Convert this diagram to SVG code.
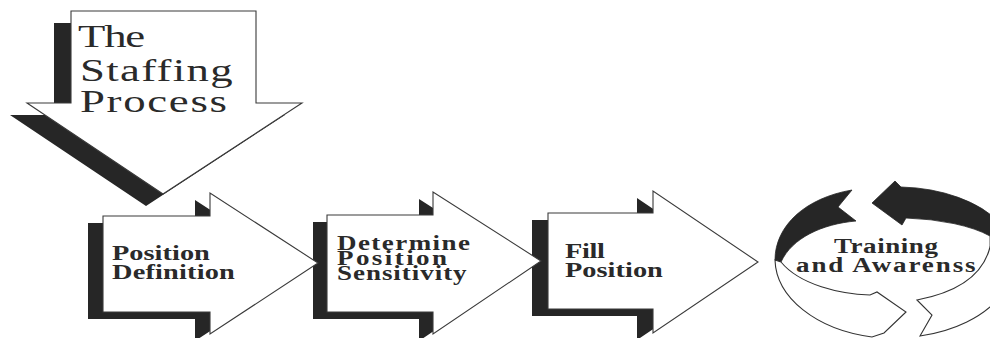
<svg xmlns="http://www.w3.org/2000/svg" width="990" height="338" viewBox="0 0 990 338">
<style>
.shadow{fill:#262626;stroke:none}
.arrow{fill:#ffffff;stroke:#3a3a3a;stroke-width:1.1;stroke-linejoin:miter}
.ringdark{fill:#262626;stroke:#262626;stroke-width:0.8}
.ringwhite{fill:#ffffff;stroke:#333333;stroke-width:1.1}
.title{font-family:"Liberation Serif","Times New Roman",serif;font-size:32px;fill:#2a2a2a}
.lbl{font-family:"Liberation Serif","Times New Roman",serif;font-weight:bold;font-size:21px;fill:#2a2a2a}
.lbl2{font-family:"Liberation Serif","Times New Roman",serif;font-weight:bold;font-size:20px;fill:#2a2a2a}
.lbl3{font-family:"Liberation Serif","Times New Roman",serif;font-weight:bold;font-size:20px;fill:#2a2a2a}
</style>
<defs>
<path id="bigArrow" d="M71,11 H256 V103 H302 L163,194 L27,103 H71 Z"/>
<path id="a1" d="M103,216 H210 V193 L318,263 L210,334 V312 H103 Z"/>
<path id="a2" d="M327,215 H433 V192 L541,261 L433,334 V312 H327 Z"/>
<path id="a3" d="M548,213 H653 V191 L758,262 L653,333 V309 H548 Z"/>
</defs>
<rect width="990" height="338" fill="#ffffff"/>

<g id="staffing-process">
<use href="#bigArrow" class="shadow" transform="translate(-17,12)"/>
<use href="#bigArrow" class="arrow"/>
<text class="title" transform="translate(78,47) scale(1.4,1)" x="0" y="0" textLength="48" lengthAdjust="spacing">The</text>
<text class="title" transform="translate(80,81) scale(1.4,1)" x="0" y="0" textLength="109" lengthAdjust="spacing">Staffing</text>
<text class="title" transform="translate(80,112) scale(1.4,1)" x="0" y="0" textLength="105" lengthAdjust="spacing">Process</text>
</g>

<g id="shadows">
<use href="#a1" class="shadow" transform="translate(-15,7)"/>
<use href="#a2" class="shadow" transform="translate(-14,7)"/>
<use href="#a3" class="shadow" transform="translate(-16,7)"/>
</g>

<g id="position-definition">
<use href="#a1" class="arrow"/>
<text class="lbl" transform="translate(112,260) scale(1.35,1)" x="0" y="0" textLength="72.5" lengthAdjust="spacing">Position</text>
<text class="lbl" transform="translate(112,279) scale(1.35,1)" x="0" y="0" textLength="91" lengthAdjust="spacing">Definition</text>
</g>

<g id="determine-position-sensitivity">
<use href="#a2" class="arrow"/>
<text class="lbl2" transform="translate(337,250) scale(1.35,1)" x="0" y="0" textLength="98.5" lengthAdjust="spacing">Determine</text>
<text class="lbl2" transform="translate(337,265) scale(1.35,1)" x="0" y="0" textLength="81.5" lengthAdjust="spacing">Position</text>
<text class="lbl2" transform="translate(337,280) scale(1.35,1)" x="0" y="0" textLength="96" lengthAdjust="spacing">Sensitivity</text>
</g>

<g id="fill-position">
<use href="#a3" class="arrow"/>
<text class="lbl" transform="translate(565,258) scale(1.35,1)" x="0" y="0" textLength="29.6" lengthAdjust="spacing">Fill</text>
<text class="lbl" transform="translate(565,277) scale(1.35,1)" x="0" y="0" textLength="72.5" lengthAdjust="spacing">Position</text>
</g>

<g id="training-awareness">
<path class="ringdark" d="M775,260 C775,226 805,198 852,190 L838,207 L856,221 C822,224 792,238 781,262 Z"/>
<path class="ringdark" d="M872,203 L895,181 L901,187 A120 72 0 0 1 1000,223 L1000,248 L990,247 L990,236 A112 39 0 0 0 906,218 L902,225 Z"/>
<path class="ringwhite" d="M775,260 A120 80 0 0 0 872,337 L884,333 L906,312 L877,292 L870,295 C840,294 800,285 781,262 Z"/>
<path class="ringwhite" d="M917,300 L932,315 L920,336 A120 80 0 0 0 1000,297 L1000,248 L990,247 Q980,288 917,300 Z"/>
<text class="lbl3" transform="translate(834,253) scale(1.35,1)" x="0" y="0" textLength="77" lengthAdjust="spacing">Training</text>
<text class="lbl3" transform="translate(796,272) scale(1.35,1)" x="0" y="0" textLength="133" lengthAdjust="spacing">and Awarenss</text>
</g>
</svg>
